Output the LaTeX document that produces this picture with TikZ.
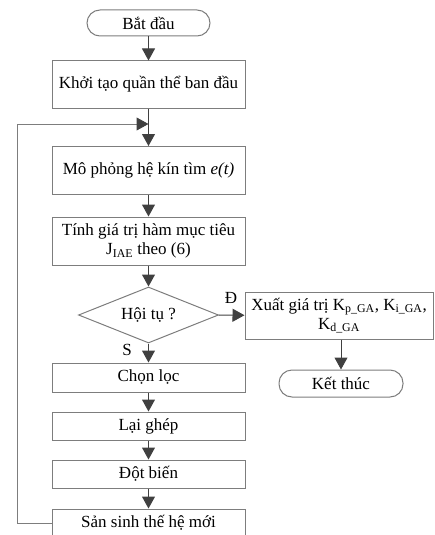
\documentclass[tikz,border=0pt]{standalone}
\usepackage{fontspec}
\setmainfont{Liberation Serif}
\usetikzlibrary{arrows.meta,shapes.geometric}
\definecolor{boxgray}{RGB}{125,125,125}
\definecolor{arrgray}{RGB}{64,64,64}
\begin{document}
\begin{tikzpicture}[x=1pt,y=1pt,
    font=\fontsize{17}{19}\selectfont,
    proc/.style={draw=boxgray,line width=1pt,minimum width=193pt,inner sep=2pt,align=center},
    term/.style={draw=boxgray,line width=1pt,rounded corners=13pt,minimum width=123pt,minimum height=26pt,inner sep=2pt},
    test/.style={draw=boxgray,line width=1pt,diamond,aspect=2.5,inner sep=0pt,minimum width=140pt,minimum height=56pt},
    flow/.style={draw=arrgray,line width=1pt,-{Triangle[length=12pt,width=13pt]}},
    loopflow/.style={draw=boxgray,line width=1pt,-{Triangle[length=12pt,width=13pt,color=arrgray]}},
    back/.style={draw=boxgray,line width=1pt}]
    \useasboundingbox (0,0) rectangle (434,-535);

    \node[term] (start) at (148.5,-23) {Bắt đầu};
    \node[proc,minimum height=47pt] (init) at (148.5,-84.5) {Khởi tạo quần thể ban đầu};
    \node[proc,minimum height=48pt] (sim) at (148.5,-170.5) {Mô phỏng hệ kín tìm \textit{e(t)}};
    \node[proc,minimum height=48pt] (obj) at (148.5,-241) {Tính giá trị hàm mục tiêu\\J\textsubscript{IAE} theo (6)};
    \node[test] (conv) at (148.5,-315) {Hội tụ ?};
    \node[proc,minimum width=188pt,minimum height=47pt] (out) at (339,-315.5) {Xuất giá trị K\textsubscript{p\_GA}, K\textsubscript{i\_GA},\\K\textsubscript{d\_GA}};
    \node[term,minimum width=124pt,minimum height=27pt] (end) at (341,-383.5) {Kết thúc};
    \node[proc,minimum height=29pt] (sel) at (148.5,-377.5) {Chọn lọc};
    \node[proc,minimum height=28pt] (cross) at (148.5,-426) {Lại ghép};
    \node[proc,minimum height=28pt] (mut) at (148.5,-474) {Đột biến};
    \node[proc,minimum height=28pt] (gen) at (148.5,-523) {Sản sinh thế hệ mới};

    \node (yes) at (231,-298) {Đ};
    \node (no) at (127,-350) {S};

    \coordinate (join) at (148.5,-124);
    \coordinate (corner) at (17,-124);

    \draw[flow] (start) -- (init);
    \draw[flow] (init) -- (sim);
    \draw[flow] (sim) -- (obj);
    \draw[flow] (obj) -- (conv);
    \draw[flow] (conv) -- (out);
    \draw[flow] (out.south -| end.north) -- (end);
    \draw[flow] (conv) -- (sel);
    \draw[flow] (sel) -- (cross);
    \draw[flow] (cross) -- (mut);
    \draw[flow] (mut) -- (gen);
    \draw[back] (gen.west) -| (corner);
    \draw[loopflow] (corner) -- (join);
\end{tikzpicture}
\end{document}
